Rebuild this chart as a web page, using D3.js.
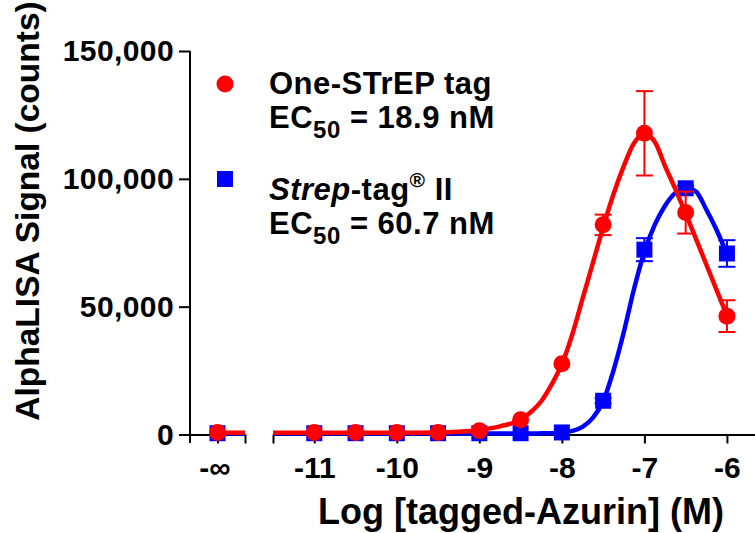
<!DOCTYPE html>
<html>
<head>
<meta charset="utf-8">
<script src="https://cdn.jsdelivr.net/npm/d3@7"></script>
<style>
  body { margin: 0; background: #fff; }
  svg text { font-family: "Liberation Sans", Arial, sans-serif; font-weight: bold; }
</style>
</head>
<body>
<svg id="chart" width="755" height="533"></svg>
<script>
// measured points (log M), -inf point kept apart
var logConc = [-11, -10.5, -10, -9.5, -9, -8.5, -8, -7.5, -7, -6.5, -6];
var oneStrepZero = 800, strepZero = 500;
var oneStrepMean = [800, 800, 800, 800, 1500, 5800, 27700, 82000, 117800, 86800, 46300];
var oneStrepErr  = [0, 0, 0, 0, 0, 0, 0, 4000, 16500, 8200, 6200];
var strepMean    = [500, 500, 500, 500, 500, 500, 800, 13200, 72300, 96300, 70800];
var strepErr     = [0, 0, 0, 0, 0, 0, 0, 1000, 4500, 1000, 5200];

// fitted curves
var fitX = [-11.5,-11,-10.5,-10,-9.5,-9.25,-9,-8.75,-8.5,-8.375,-8.25,-8.125,-8,-7.875,-7.75,-7.625,-7.5,-7.375,-7.25,-7.125,-7,-6.875,-6.75,-6.625,-6.5,-6.375,-6.25,-6.125,-6];
var oneStrepFit = [700,700,700,700,800,1100,1800,3200,5800,8800,13000,19500,27500,39000,53000,67000,81000,94000,105000,114000,117500,114500,105000,96000,86500,76500,66500,56500,46500];
var strepFit = [400,400,400,400,400,400,400,400,400,400,450,500,700,1400,3000,6500,13000,25000,40000,57000,71500,82000,89500,94500,96500,95000,88000,80000,70500];

var yTicks = [0, 50000, 100000, 150000];
var xTicks = [-11, -10, -9, -8, -7, -6];

var red = "#ff0000", blue = "#0000ff";

var svg = d3.select("#chart");

var y = d3.scaleLinear().domain([0, 150000]).range([434.5, 51]);
var x = d3.scaleLinear().domain([-11.5, -5.66]).range([273, 755]);
var xInf = d3.scaleLinear().domain([0, 2]).range([190, 245]);

// y axis
var yAxis = svg.append("g").attr("transform", "translate(190,0)")
  .call(d3.axisLeft(y).tickValues(yTicks).tickSize(11).tickSizeOuter(0).tickPadding(5).tickFormat(d3.format(",")));
yAxis.select(".domain").attr("stroke-width", 2).attr("d", "M0,51V443");
yAxis.selectAll(".tick line").attr("stroke-width", 2);
yAxis.selectAll("text").style("font-size", "30px").style("letter-spacing", "0.4px").attr("fill", "#000");

// x axis: -inf segment
var xAxisL = svg.append("g").attr("transform", "translate(0,434.5)")
  .call(d3.axisBottom(xInf).tickValues([1, 2]).tickSize(9).tickSizeOuter(0).tickPadding(13).tickFormat(function(d){ return d == 1 ? "-\u221e" : ""; }));
xAxisL.select(".domain").attr("stroke-width", 2);
xAxisL.selectAll(".tick line").attr("stroke-width", 2);
xAxisL.selectAll("text").style("font-size", "30px").attr("fill", "#000").attr("dx", -3);

// x axis: main segment
var xAxisR = svg.append("g").attr("transform", "translate(0,434.5)")
  .call(d3.axisBottom(x).tickValues([-11.5].concat(xTicks)).tickSize(9).tickSizeOuter(0).tickPadding(13).tickFormat(function(d){ return d == -11.5 ? "" : d; }));
xAxisR.select(".domain").attr("stroke-width", 2);
xAxisR.selectAll(".tick line").attr("stroke-width", 2);
xAxisR.selectAll("text").style("font-size", "30px").attr("fill", "#000");

// axis titles
svg.append("text").attr("x", 521).attr("y", 524).attr("text-anchor", "middle")
  .style("font-size", "36px").text("Log [tagged-Azurin] (M)");
svg.append("text").attr("transform", "translate(39,211) rotate(-90)").attr("text-anchor", "middle")
  .style("font-size", "33.5px").text("AlphaLISA Signal (counts)");

var line = d3.line().x(function(d){ return x(d[0]); }).y(function(d){ return y(d[1]); }).curve(d3.curveMonotoneX);

function drawSeries(fit, zero, mean, err, color, shape) {
  var g = svg.append("g");
  // stub on -inf segment
  g.append("line").attr("x1", xInf(1)).attr("x2", xInf(2)).attr("y1", y(fit[0])).attr("y2", y(fit[0]))
    .attr("stroke", color).attr("stroke-width", 4.5);
  g.append("path").datum(d3.zip(fitX, fit)).attr("d", line)
    .attr("fill", "none").attr("stroke", color).attr("stroke-width", 4.5);

  var pts = logConc.map(function(c, i){ return { x: x(c), m: mean[i], e: err[i] }; });
  pts.unshift({ x: xInf(1), m: zero, e: 0 });

  var eb = g.selectAll(".eb").data(pts.filter(function(p){ return p.e > 0; })).enter().append("g");
  eb.append("line").attr("x1", function(p){ return p.x; }).attr("x2", function(p){ return p.x; })
    .attr("y1", function(p){ return y(p.m + p.e); }).attr("y2", function(p){ return y(p.m - p.e); })
    .attr("stroke", color).attr("stroke-width", 2);
  [1, -1].forEach(function(s){
    eb.append("line").attr("x1", function(p){ return p.x - 8.5; }).attr("x2", function(p){ return p.x + 8.5; })
      .attr("y1", function(p){ return y(p.m + s * p.e); }).attr("y2", function(p){ return y(p.m + s * p.e); })
      .attr("stroke", color).attr("stroke-width", 2);
  });

  if (shape == "circle") {
    g.selectAll(".pt").data(pts).enter().append("circle")
      .attr("cx", function(p){ return p.x; }).attr("cy", function(p){ return y(p.m); })
      .attr("r", 8.5).attr("fill", color);
  } else {
    g.selectAll(".pt").data(pts).enter().append("rect")
      .attr("x", function(p){ return p.x - 8; }).attr("y", function(p){ return y(p.m) - 8; })
      .attr("width", 16).attr("height", 16).attr("fill", color);
  }
}

drawSeries(strepFit, strepZero, strepMean, strepErr, blue, "square");
drawSeries(oneStrepFit, oneStrepZero, oneStrepMean, oneStrepErr, red, "circle");

// legend
svg.append("circle").attr("cx", 225).attr("cy", 84).attr("r", 8.5).attr("fill", red);
svg.append("rect").attr("x", 217).attr("y", 171).attr("width", 16).attr("height", 16).attr("fill", blue);

function ecLine(yb, val) {
  var t = svg.append("text").attr("x", 269).attr("y", yb).style("font-size", "31px").style("letter-spacing", "0.5px");
  t.append("tspan").text("EC");
  t.append("tspan").attr("dy", 10).style("font-size", "24px").text("50");
  t.append("tspan").attr("dy", -10).text(" = " + val);
}
svg.append("text").attr("x", 269).attr("y", 94).style("font-size", "31px").style("letter-spacing", "0.5px").text("One-STrEP tag");
ecLine(128, "18.9 nM");

var t2 = svg.append("text").attr("x", 269).attr("y", 200).style("font-size", "31px").style("letter-spacing", "0.5px");
t2.append("tspan").style("font-style", "italic").text("Strep");
t2.append("tspan").text("-tag");
t2.append("tspan").attr("dy", -13).style("font-size", "21px").text("\u00ae");
t2.append("tspan").attr("dy", 13).text(" II");
ecLine(234, "60.7 nM");
</script>
</body>
</html>
